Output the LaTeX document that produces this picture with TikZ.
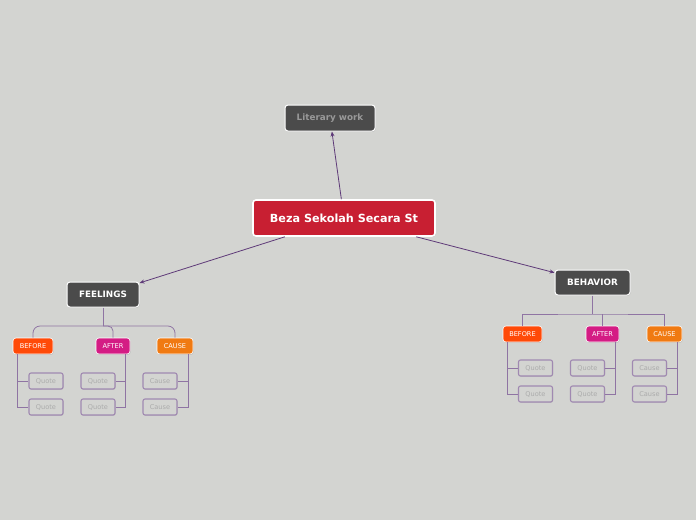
\documentclass[tikz,border=0pt]{standalone}
\usepackage{fontspec}
\setmainfont{DejaVu Sans}
\usetikzlibrary{positioning,arrows.meta,shadows}
\definecolor{paper}{HTML}{D3D4D1}
\definecolor{topicred}{HTML}{C81F32}
\definecolor{slate}{HTML}{4B4B4B}
\definecolor{plum}{HTML}{5E3A78}
\definecolor{lilac}{HTML}{8F74A3}
\definecolor{redorange}{HTML}{FF4A08}
\definecolor{magenta}{HTML}{D41C84}
\definecolor{amber}{HTML}{F07A12}

\begin{document}
\begin{tikzpicture}[x=1pt,y=-1pt,>={Stealth[length=5pt,width=4pt]},
    box/.style={rounded corners=3pt,align=center,inner sep=0pt,draw=white,line width=1pt,
      drop shadow={shadow xshift=0.6pt,shadow yshift=-0.8pt,opacity=0.35}},
    mainbox/.style={box,fill=slate,text=white,font=\bfseries\fontsize{8.8}{10}\selectfont,minimum height=25pt},
    tagbox/.style={box,line width=0.6pt,text=white,font=\fontsize{6.6}{8}\selectfont,minimum height=16pt},
    leaf/.style={rounded corners=2pt,draw=lilac!85,line width=1.1pt,fill=paper,text=black!33,
      font=\fontsize{6.6}{8}\selectfont,minimum width=34pt,minimum height=16pt,inner sep=0pt,
      drop shadow={shadow xshift=0.5pt,shadow yshift=-0.7pt,opacity=0.3}},
    link/.style={draw=plum,line width=0.8pt},
    tree/.style={draw=lilac,line width=0.8pt}]
  \fill[paper] (0,0) rectangle (696,520);
  \useasboundingbox (0,0) rectangle (696,520);

  % main topic and first level
  \node[box,fill=topicred,text=white,line width=1.6pt,font=\bfseries\fontsize{11.2}{13}\selectfont,
    minimum width=182pt,minimum height=36pt] (cen) at (344,218) {Beza Sekolah Secara St};
  \node[mainbox,text=black!40,minimum width=90pt,minimum height=26pt] (lit) at (330,118) {Literary work};
  \node[mainbox,minimum width=72pt] (feel) at (103,294.5) {FEELINGS};
  \node[mainbox,minimum width=75pt] (beh) at (592.5,282.5) {BEHAVIOR};
  \draw[link,->] (cen) -- (lit);
  \draw[link,->] (cen) -- (feel);
  \draw[link,->] (cen) -- (beh);

  % FEELINGS branch
  \node[tagbox,fill=redorange,minimum width=40pt] (fbef) at (33,346) {BEFORE};
  \node[tagbox,fill=magenta,minimum width=34pt] (faft) at (113,346) {AFTER};
  \node[tagbox,fill=amber,minimum width=36pt] (fcau) at (175,346) {CAUSE};
  \coordinate (fj) at (103,326);
  \draw[tree] (feel.south) -- (fj);
  \draw[tree,rounded corners=7pt] (fbef.north) |- (fj) -| (fcau.north);
  \draw[tree,rounded corners=5pt] (faft.north) |- (fj);

  \node[leaf] (fbq1) at (46,381) {Quote};
  \node[leaf] (fbq2) at (46,407) {Quote};
  \node[leaf] (faq1) at (98,381) {Quote};
  \node[leaf] (faq2) at (98,407) {Quote};
  \node[leaf] (fcq1) at (160,381) {Cause};
  \node[leaf] (fcq2) at (160,407) {Cause};
  \draw[tree] ([xshift=5pt]fbef.south west) |- (fbq2.west);
  \draw[tree] ([xshift=5pt]fbef.south west) |- (fbq1.west);
  \draw[tree] ([xshift=-5pt]faft.south east) |- (faq2.east);
  \draw[tree] ([xshift=-5pt]faft.south east) |- (faq1.east);
  \draw[tree] ([xshift=-5pt]fcau.south east) |- (fcq2.east);
  \draw[tree] ([xshift=-5pt]fcau.south east) |- (fcq1.east);

  % BEHAVIOR branch
  \node[tagbox,fill=redorange,minimum width=39pt] (bbef) at (522.5,334) {BEFORE};
  \node[tagbox,fill=magenta,minimum width=33pt] (baft) at (602.5,334) {AFTER};
  \node[tagbox,fill=amber,minimum width=35pt] (bcau) at (664.5,334) {CAUSE};
  \coordinate (bj) at (592.5,314);
  \draw[tree] (beh.south) -- (bj);
  \draw[tree] (bbef.north) |- (bj) -| (bcau.north);
  \draw[tree] (baft.north) -- (baft.north |- bj);

  \node[leaf] (bbq1) at (535.5,368) {Quote};
  \node[leaf] (bbq2) at (535.5,394) {Quote};
  \node[leaf] (baq1) at (587.5,368) {Quote};
  \node[leaf] (baq2) at (587.5,394) {Quote};
  \node[leaf] (bcq1) at (649.5,368) {Cause};
  \node[leaf] (bcq2) at (649.5,394) {Cause};
  \draw[tree] ([xshift=5pt]bbef.south west) |- (bbq2.west);
  \draw[tree] ([xshift=5pt]bbef.south west) |- (bbq1.west);
  \draw[tree] ([xshift=-4pt]baft.south east) |- (baq2.east);
  \draw[tree] ([xshift=-4pt]baft.south east) |- (baq1.east);
  \draw[tree] ([xshift=-5pt]bcau.south east) |- (bcq2.east);
  \draw[tree] ([xshift=-5pt]bcau.south east) |- (bcq1.east);
\end{tikzpicture}
\end{document}
